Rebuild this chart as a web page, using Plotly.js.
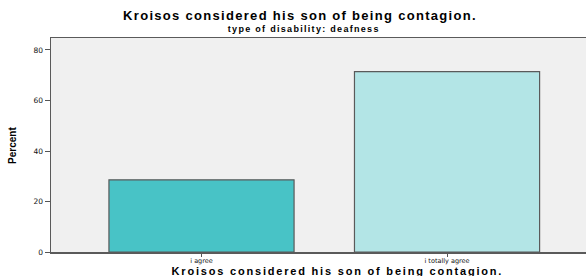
<!DOCTYPE html>
<html>
<head>
<meta charset="utf-8">
<script src="https://cdn.plot.ly/plotly-3.0.1.min.js"></script>
<style>
html,body{margin:0;padding:0;background:#fff;}
#chart{width:586px;height:276px;}
g.annotation[data-index="0"] .annotation-text{letter-spacing:1.3px;}
g.annotation[data-index="1"] .annotation-text{letter-spacing:1.3px;}
g.annotation[data-index="2"] .annotation-text{letter-spacing:1.8px;}
</style>
</head>
<body>
<div id="chart"></div>
<script>
const categories = ["i agree", "i totally agree"];
const percentValues = [28.57, 71.43];
const barColors = ["#48C3C6", "#B3E5E6"];
const yTickValues = [0, 20, 40, 60, 80];
const chartTitle = "Kroisos considered his son of being contagion.";
const subTitle = "type of disability: deafness";
const xTitle = "Kroisos considered his son of being contagion.";
const yTitle = "Percent";

const F = "Liberation Sans, Arial, sans-serif";
const FT = "DejaVu Sans, Verdana, sans-serif";

const trace = {
  type: "bar",
  x: [0, 1],
  y: percentValues,
  width: 0.754,
  marker: { color: barColors, line: { color: "#5a5a5a", width: 1.2 } },
  hoverinfo: "none"
};

const layout = {
  width: 586, height: 276,
  margin: { l: 51, r: 0, t: 38, b: 24, pad: 0 },
  paper_bgcolor: "#ffffff",
  plot_bgcolor: "#F0F0F0",
  showlegend: false,
  xaxis: {
    range: [-0.613, 1.566],
    tickmode: "array", tickvals: [0, 1], ticktext: categories,
    ticks: "outside", ticklen: 3, tickwidth: 1, tickcolor: "#555555",
    ticklabelstandoff: -1,
    tickfont: { family: FT, size: 6.5, color: "#111111" },
    showline: true, linecolor: "#5a5a5a", linewidth: 1.5, mirror: true,
    showgrid: false, zeroline: false, fixedrange: true
  },
  yaxis: {
    range: [0, 84.75],
    tickmode: "array", tickvals: yTickValues,
    ticks: "outside", ticklen: 5, tickwidth: 1, tickcolor: "#555555",
    tickfont: { family: FT, size: 7.5, color: "#111111" },
    showline: true, linecolor: "#5a5a5a", linewidth: 1.5,
    showgrid: false, zeroline: false, fixedrange: true
  },
  annotations: [
    { text: "<b>" + chartTitle + "</b>", xref: "paper", yref: "paper", x: 0.465, y: 1.103,
      xanchor: "center", yanchor: "middle", showarrow: false, font: { family: F, size: 13, color: "#000" } },
    { text: "<b>" + subTitle + "</b>", xref: "paper", yref: "paper", x: 0.472, y: 1.04,
      xanchor: "center", yanchor: "middle", showarrow: false, font: { family: F, size: 9, color: "#000" } },
    { text: "<b>" + xTitle + "</b>", xref: "paper", yref: "paper", x: 0.535, y: -0.087,
      xanchor: "center", yanchor: "middle", showarrow: false, font: { family: F, size: 11, color: "#000" } },
    { text: "<b>" + yTitle + "</b>", xref: "paper", yref: "paper", x: -0.073, y: 0.5,
      xanchor: "center", yanchor: "middle", textangle: -90, showarrow: false, font: { family: "Liberation Sans Narrow, Arial Narrow, sans-serif", size: 10, color: "#000" } }
  ]
};

Plotly.newPlot("chart", [trace], layout, { displayModeBar: false, staticPlot: true });
</script>
</body>
</html>
